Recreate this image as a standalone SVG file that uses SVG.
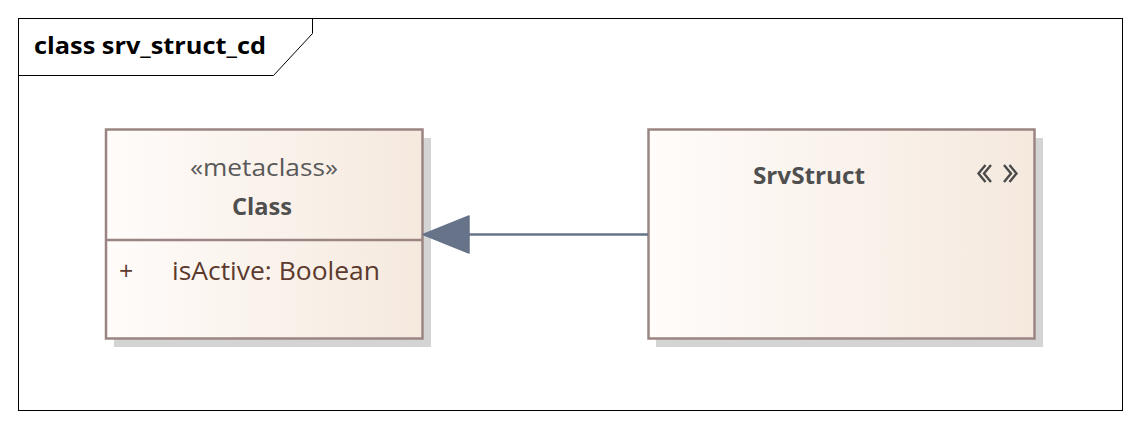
<svg xmlns="http://www.w3.org/2000/svg" width="1140" height="429" viewBox="0 0 1140 429">
<style>
.frame{fill:#fff;stroke:#000;stroke-width:1}
.shadow{fill:#d4d4d4}
.box{fill:url(#g);stroke:#9b8583;stroke-width:2.5}
.t{font-family:"Open Sans","Noto Sans",sans-serif}
.st{font-size:23px;fill:#595959;text-anchor:middle}
.nm{font-size:24px;font-weight:bold;fill:#4f4f4f;text-anchor:middle}
.at{font-size:25px;fill:#5c3a2e}
.conn{stroke:#667389;stroke-width:2.5;fill:none}
</style>
<defs>
<linearGradient id="g" x1="0" y1="0" x2="1" y2="0">
<stop offset="0" stop-color="#fffcfa"/>
<stop offset="1" stop-color="#f5e9de"/>
</linearGradient>
</defs>
<rect width="1140" height="429" fill="#fff"/>
<g id="frame">
<rect class="frame" x="18.5" y="18.5" width="1104" height="392"/>
<path d="M18.5 75.5 H273.5 L312.5 33.5 V18.5" fill="none" stroke="#000" stroke-width="1"/>
<text class="t" x="34" y="53.5" font-size="23" font-weight="bold" fill="#000" textLength="232" lengthAdjust="spacingAndGlyphs">class srv_struct_cd</text>
</g>
<g id="node-class">
<rect class="shadow" x="114" y="138" width="317" height="209"/>
<rect class="box" x="106" y="129.5" width="316.5" height="209"/>
<line x1="106" y1="240" x2="422.5" y2="240" stroke="#9b8583" stroke-width="2.5"/>
<text class="t st" x="264" y="176" textLength="148" lengthAdjust="spacingAndGlyphs">«metaclass»</text>
<text class="t nm" x="262" y="215" textLength="60" lengthAdjust="spacingAndGlyphs">Class</text>
<text class="t at" x="119" y="280">+</text>
<text class="t at" x="172" y="280" textLength="208" lengthAdjust="spacingAndGlyphs">isActive: Boolean</text>
</g>
<g id="node-srvstruct">
<rect class="shadow" x="656" y="138" width="387" height="209"/>
<rect class="box" x="648.5" y="129.5" width="386" height="209"/>
<text class="t nm" x="809" y="184" textLength="112" lengthAdjust="spacingAndGlyphs">SrvStruct</text>
<g fill="none" stroke="#4a4a4a" stroke-width="2.4">
<polyline points="985.5,165 978.5,173.5 985.5,182"/>
<polyline points="991,165 984,173.5 991,182"/>
<polyline points="1004,165 1011,173.5 1004,182"/>
<polyline points="1009.5,165 1016.5,173.5 1009.5,182"/>
</g>
</g>
<g id="connectors">
<line class="conn" x1="469" y1="234.5" x2="648" y2="234.5"/>
<polygon points="423,234.5 469,216 469,253" fill="#667389" stroke="#667389" stroke-width="1.5" stroke-linejoin="round"/>
</g>
</svg>
